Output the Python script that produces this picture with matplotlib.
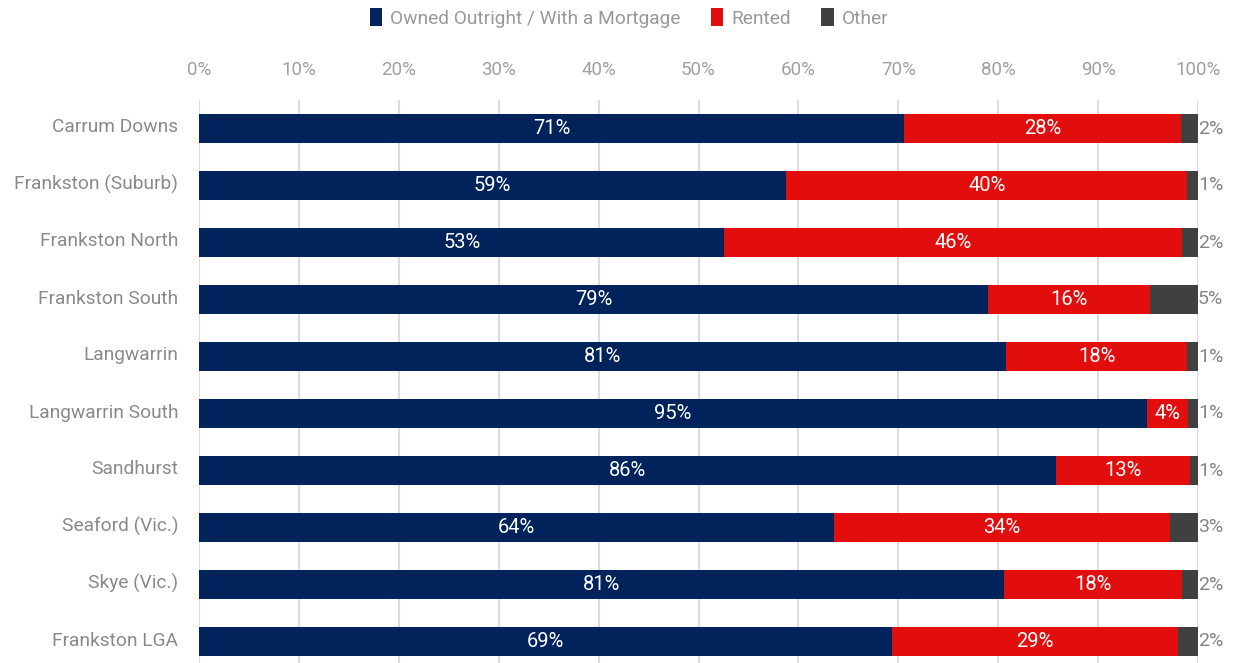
import matplotlib
matplotlib.use("Agg")
import matplotlib.pyplot as plt
import matplotlib.transforms as mtransforms
from matplotlib.patches import Patch
import numpy as np

plt.rcParams['font.family'] = ['Roboto', 'DejaVu Sans']

# Data (percent of dwellings)
suburbs = ["Carrum Downs", "Frankston (Suburb)", "Frankston North", "Frankston South",
           "Langwarrin", "Langwarrin South", "Sandhurst", "Seaford (Vic.)",
           "Skye (Vic.)", "Frankston LGA"]
owned = [70.6, 58.8, 52.6, 79.0, 80.8, 94.9, 85.8, 63.6, 80.6, 69.4]
rented = [27.7, 40.1, 45.8, 16.2, 18.1, 4.1, 13.4, 33.6, 17.8, 28.6]
other = [1.7, 1.1, 1.6, 4.8, 1.1, 1.0, 0.8, 2.8, 1.6, 2.0]
series_names = ["Owned Outright / With a Mortgage", "Rented", "Other"]
colors = ["#00235C", "#E20E0E", "#404040"]
xticks = [0, 10, 20, 30, 40, 50, 60, 70, 80, 90, 100]

fig = plt.figure(figsize=(12.39, 6.63), dpi=100)
ax = fig.add_axes([199 / 1239, 0, (1198 - 199) / 1239, 1 - 100 / 663])

y = np.arange(len(suburbs))
bar_h = 0.51
owned = np.array(owned)
rented = np.array(rented)
other = np.array(other)

ax.barh(y, owned, height=bar_h, color=colors[0], zorder=3)
ax.barh(y, rented, left=owned, height=bar_h, color=colors[1], zorder=3)
ax.barh(y, other, left=owned + rented, height=bar_h, color=colors[2], zorder=3)

# value labels
for i in range(len(suburbs)):
    ax.text(owned[i] / 2, y[i], f"{owned[i]:.0f}%", color="white",
            ha="center", va="center", fontsize=14.5, zorder=4)
    ax.text(owned[i] + rented[i] / 2, y[i], f"{rented[i]:.0f}%", color="white",
            ha="center", va="center", fontsize=14.5, zorder=4)
    ax.text(100, y[i], f"{other[i]:.0f}%", color="#858585",
            ha="left", va="center", fontsize=14, zorder=4)

ax.set_xlim(0, 100)
ax.set_ylim(-0.5 + 563 / 57, -0.5)
ax.set_yticks(y)
ax.set_yticklabels(suburbs)
ax.set_xticks(xticks)
ax.set_xticklabels([f"{t}%" for t in xticks])
ax.xaxis.tick_top()
ax.tick_params(axis="x", length=0, pad=15, labelsize=13.5, labelcolor="#a0a0a0")
ax.tick_params(axis="y", length=0, pad=15, labelsize=13.8, labelcolor="#8a8a8a")

# nudge category labels up a little
shift = mtransforms.ScaledTranslation(0, 3 / 100, fig.dpi_scale_trans)
for lbl in ax.get_yticklabels():
    lbl.set_transform(lbl.get_transform() + shift)

ax.grid(axis="x", color="#dddddd", linewidth=1.5, zorder=0)
for s in ax.spines.values():
    s.set_visible(False)

handles = [Patch(facecolor=c, edgecolor="none") for c in colors]
fig.legend(handles, series_names, loc="center", bbox_to_anchor=(629 / 1239, 1 - 18 / 663),
           ncol=3, frameon=False, fontsize=13.8, labelcolor="#999999",
           handlelength=0.65, handleheight=1.0, handletextpad=0.4, columnspacing=1.6)

fig.savefig("out.png", dpi=100)
